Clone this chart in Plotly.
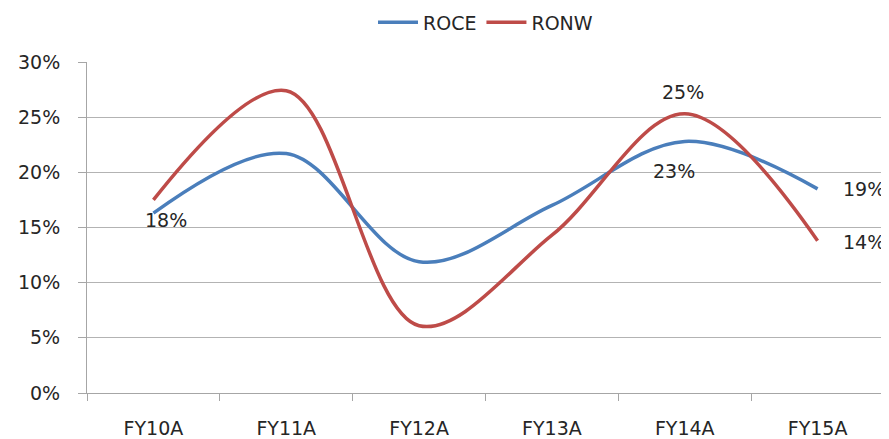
import plotly.graph_objects as go

categories = ["FY10A", "FY11A", "FY12A", "FY13A", "FY14A", "FY15A"]
roce = [16.3, 21.7, 11.9, 17.0, 22.8, 18.5]
ronw = [17.5, 27.4, 6.1, 14.3, 25.3, 13.8]

# data labels: (series, category index, text, xshift, yshift)
label_series = ["ROCE", "RONW", "ROCE", "ROCE", "RONW"]
label_index = [0, 4, 4, 5, 5]
label_text = ["18%", "25%", "23%", "19%", "14%"]
label_dx = [13, -2, -11, 46, 46]
label_dy = [-7, 22, -30, 0, -1]

BLUE = "#4a7ebb"
RED = "#be4b48"
FONT = "DejaVu Sans"
TXT = "#262626"

fig = go.Figure()
fig.add_trace(go.Scatter(x=categories, y=roce, name="ROCE", mode="lines",
                         line=dict(color=BLUE, width=3.5, shape="spline", smoothing=1.0)))
fig.add_trace(go.Scatter(x=categories, y=ronw, name="RONW", mode="lines",
                         line=dict(color=RED, width=3.5, shape="spline", smoothing=1.0)))

series_map = {"ROCE": roce, "RONW": ronw}
for s, i, t, dx, dy in zip(label_series, label_index, label_text, label_dx, label_dy):
    fig.add_annotation(x=categories[i], y=series_map[s][i], text=t, showarrow=False,
                       xshift=dx, yshift=dy, font=dict(family=FONT, size=19, color=TXT))

fig.update_layout(
    width=881, height=431,
    margin=dict(l=79, r=5, t=54, b=46, autoexpand=False),
    paper_bgcolor="white", plot_bgcolor="white",
    font=dict(family=FONT, size=19, color=TXT),
    showlegend=True,
    legend=dict(orientation="h", x=0.5, xanchor="center", y=1.12, yanchor="middle",
                font=dict(family=FONT, size=19, color=TXT),
                itemwidth=40, traceorder="normal"),
    xaxis=dict(type="category", tickson="boundaries", ticks="outside", ticklen=7,
               range=[-0.5, 5.5], automargin=False,
               tickcolor="#a6a6a6", showgrid=False, showline=True, linecolor="#a6a6a6",
               linewidth=1, ticklabelstandoff=18, zeroline=False),
    yaxis=dict(range=[0, 30], tickvals=[0, 5, 10, 15, 20, 25, 30],
               ticktext=["0%", "5%", "10%", "15%", "20%", "25%", "30%"],
               ticks="outside", ticklen=8, tickcolor="#a6a6a6", automargin=False,
               showgrid=True, gridcolor="#b3b3b3", gridwidth=1,
               showline=True, linecolor="#a6a6a6", linewidth=1,
               zeroline=False, ticklabelstandoff=14),
)
fig.write_html("out.html")
